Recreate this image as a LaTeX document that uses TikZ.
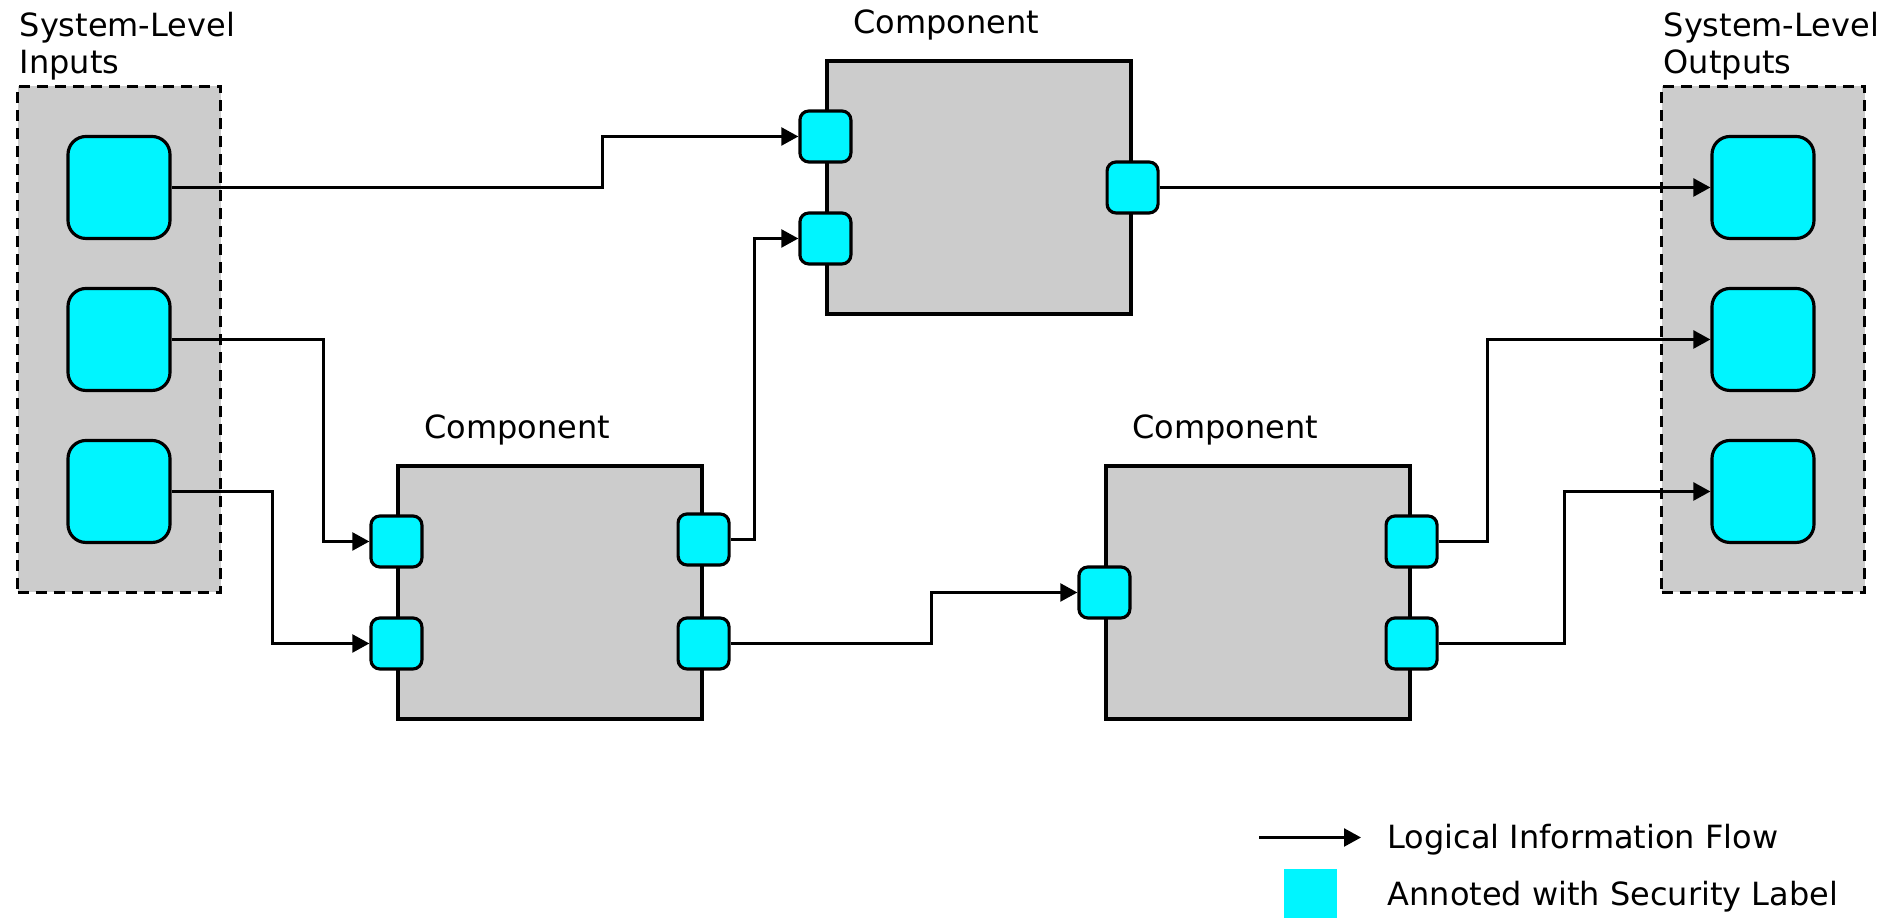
\documentclass[tikz,border=0pt]{standalone}
\usepackage{fontspec}
\setmainfont{DejaVu Sans}
\usetikzlibrary{arrows.meta,positioning}
\definecolor{lblcyan}{RGB}{0,245,255}
\definecolor{cmpgray}{RGB}{204,204,204}
\tikzset{
  sysbox/.style={draw,dash pattern=on 1.1mm off 0.7mm,line width=0.85pt,fill=cmpgray,minimum width=2.03cm,minimum height=5.06cm,inner sep=0pt},
  sysport/.style={draw,line width=0.9pt,fill=lblcyan,rounded corners=0.18cm,minimum size=1.02cm,inner sep=0pt},
  cmp/.style={draw,line width=0.9pt,fill=cmpgray,minimum width=3.04cm,minimum height=2.53cm,inner sep=0pt},
  port/.style={draw,line width=0.9pt,fill=lblcyan,rounded corners=0.09cm,minimum size=0.51cm,inner sep=0pt},
  flow/.style={line width=0.7pt,-{Triangle[length=1.7mm,width=1.8mm]}},
  lbl/.style={inner sep=0pt,align=left}
}
\begin{document}
\begin{tikzpicture}[font=\fontsize{9.1}{10.5}\selectfont]
\useasboundingbox (0,0) rectangle (18.95,9.185);
\node[sysbox] (insys) at (1.19,5.79) {};
\node[sysbox] (outsys) at (17.63,5.79) {};
\node[lbl,above right=0.04cm and 0.03cm of insys.north west] (insyslbl) {System-Level\\Inputs};
\node[lbl,above right=0.04cm and 0.03cm of outsys.north west] (outsyslbl) {System-Level\\Outputs};
\node[sysport] (in1) at (1.19,7.31) {};
\node[sysport] (in2) at (1.19,5.79) {};
\node[sysport] (in3) at (1.19,4.27) {};
\node[sysport] (out1) at (17.63,7.31) {};
\node[sysport] (out2) at (17.63,5.79) {};
\node[sysport] (out3) at (17.63,4.27) {};
\node[cmp] (cmpa) at (9.79,7.31) {};
\node[cmp] (cmpb) at (5.50,3.26) {};
\node[cmp] (cmpc) at (12.58,3.26) {};
\node[lbl,above right=0.26cm and 0.27cm of cmpa.north west,anchor=base west] (cmpalbl) {Component};
\node[lbl,above right=0.26cm and 0.27cm of cmpb.north west,anchor=base west] (cmpblbl) {Component};
\node[lbl,above right=0.26cm and 0.27cm of cmpc.north west,anchor=base west] (cmpclbl) {Component};
\node[port] (a1) at ([yshift=0.51cm]cmpa.west) {};
\node[port] (a2) at ([yshift=-0.51cm]cmpa.west) {};
\node[port] (a3) at (cmpa.east) {};
\node[port] (b1) at ([yshift=0.51cm]cmpb.west) {};
\node[port] (b2) at ([yshift=-0.51cm]cmpb.west) {};
\node[port] (b3) at ([yshift=0.53cm]cmpb.east) {};
\node[port] (b4) at ([yshift=-0.51cm]cmpb.east) {};
\node[port] (c1) at (cmpc.west) {};
\node[port] (c2) at ([yshift=0.51cm]cmpc.east) {};
\node[port] (c3) at ([yshift=-0.51cm]cmpc.east) {};
\draw[flow] (in1.east) -- ++(4.31,0) |- (a1.west);
\draw[flow] (in2.east) -- ++(1.52,0) |- (b1.west);
\draw[flow] (in3.east) -- ++(1.01,0) |- (b2.west);
\draw[flow] (b3.east) -- ++(0.24,0) |- (a2.west);
\draw[flow] (b4.east) -- ++(2.01,0) |- (c1.west);
\draw[flow] (a3.east) -- (out1.west);
\draw[flow] (c2.east) -- ++(0.49,0) |- (out2.west);
\draw[flow] (c3.east) -- ++(1.26,0) |- (out3.west);
\coordinate (flowa) at (12.59,0.81);
\coordinate (flowb) at (13.61,0.81);
\draw[flow] (flowa) -- (flowb);
\node[lbl,anchor=base west] (flowlbl) at (13.87,0.70) {Logical Information Flow};
\node[fill=lblcyan,minimum width=0.53cm,minimum height=0.49cm,inner sep=0pt,anchor=south west] (seckey) at (12.83,0) {};
\node[lbl,anchor=base west] (seclbl) at (13.87,0.13) {Annoted with Security Label};
\end{tikzpicture}
\end{document}
